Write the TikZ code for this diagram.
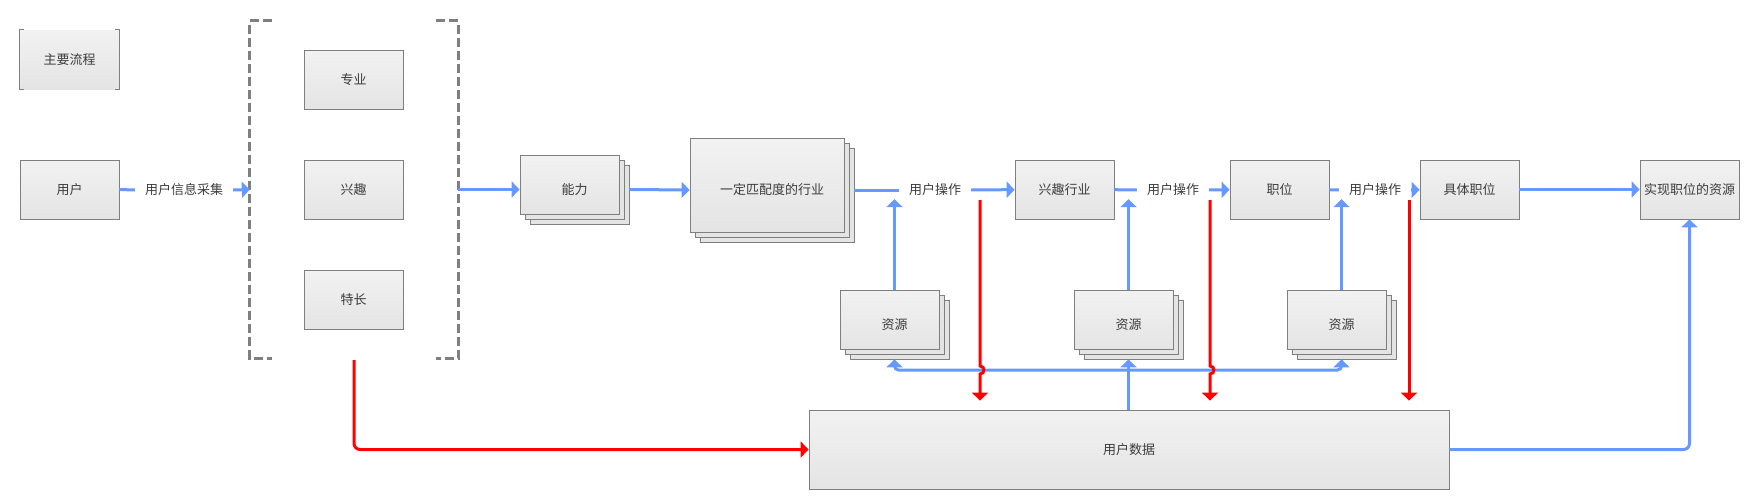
\documentclass[tikz,border=0pt]{standalone}
\usepackage{fontspec}
\usepackage{tikz}
\usetikzlibrary{arrows.meta,shadows}
\newfontfamily\cjk{Noto Sans CJK SC}
\definecolor{boxtop}{HTML}{F2F2F2}
\definecolor{boxbot}{HTML}{E4E4E4}
\definecolor{boxline}{HTML}{7F7F7F}
\definecolor{flowblue}{HTML}{6699FF}
\definecolor{txtgray}{HTML}{3C3C3C}

\begin{document}
\begin{tikzpicture}[x=1pt,y=-1pt,
		every node/.style={font=\cjk\fontsize{13}{15}\selectfont,text=txtgray,text height=11pt,text depth=2pt},
		box/.style={draw=boxline,line width=0.8pt,top color=boxtop,bottom color=boxbot,minimum width=99pt,minimum height=59pt,inner sep=0pt},
		stack/.style={box,text height=21pt,execute at begin node={\hspace*{10pt}},
			copy shadow={shadow xshift=10pt,shadow yshift=-10pt,fill=boxbot,draw=boxline,line width=0.8pt,opacity=1},
			copy shadow={shadow xshift=5pt,shadow yshift=-5pt,fill=boxbot,draw=boxline,line width=0.8pt,opacity=1}},
		tag/.style={inner xsep=10pt,inner ysep=2.5pt},
		flow/.style={draw=flowblue,line width=3pt,-{Triangle[length=8pt,width=16pt]}},
		feed/.style={flow,draw=red},
		bracket/.style={draw=boxline,line width=3pt,dash pattern=on 9pt off 4pt}]
			\useasboundingbox (0,0) rectangle (1749,499);
			\node[box,draw=none] (legend) at (69.5,59.5) {主要流程};
			\draw[boxline,line width=0.8pt] ([shift={(4,0)}]legend.north west) -- (legend.north west) -- (legend.south west) -- ++(4,0);
			\draw[boxline,line width=0.8pt] ([shift={(-4,0)}]legend.north east) -- (legend.north east) -- (legend.south east) -- ++(-4,0);
			\node[box] (user) at (69.5,189.5) {用户};
			\node[box] (major) at (353.5,79.5) {专业};
			\node[box] (interest) at (353.5,189.5) {兴趣};
			\node[box] (talent) at (353.5,299.5) {特长};
			\node[minimum width=208pt,minimum height=337pt,inner sep=0pt] (group) at (354,189.5) {};
			\draw[bracket] ([shift={(22,0)}]group.north west) -- (group.north west) -- (group.south west) -- ++(22,0);
			\draw[bracket] ([shift={(-22,0)}]group.north east) -- (group.north east) -- (group.south east) -- ++(-22,0);
			\node[tag] (collect) at (184,190) {用户信息采集};
			\node[stack] (ability) at (569.5,184.5) {能力};
			\node[stack,minimum width=154pt,minimum height=94pt] (industry) at (767,185) {一定匹配度的行业};
			\node[tag] (op1) at (935,190) {用户操作};
			\node[box] (favind) at (1064.5,189.5) {兴趣行业};
			\node[tag] (op2) at (1173,190) {用户操作};
			\node[box] (post) at (1279.5,189.5) {职位};
			\node[tag] (op3) at (1375,190) {用户操作};
			\node[box] (job) at (1469.5,189.5) {具体职位};
			\node[box] (goal) at (1689.5,189.5) {实现职位的资源};
			\node[stack] (res1) at (889.5,319.5) {资源};
			\node[stack] (res2) at (1123.5,319.5) {资源};
			\node[stack] (res3) at (1336.5,319.5) {资源};
			\node[box,minimum width=640pt,minimum height=79pt] (data) at (1129,449.5) {用户数据};

			\draw[flow,-] (user.east) -- (collect.west);
			\draw[flow] (collect.east) -- (group.west);
			\draw[flow] (group.east) -- ([shift={(0,5)}]ability.west);
			\draw[flow] ([shift={(10,5)}]ability.east) -- ([shift={(0,5)}]industry.west);
			\draw[flow,-] ([shift={(10,5)}]industry.east) -- (op1.west);
			\draw[flow] (op1) -- (favind);
			\draw[flow,-] (favind) -- (op2);
			\draw[flow] (op2) -- (post);
			\draw[flow,-] (post) -- (op3);
			\draw[flow] (op3) -- (job);
			\draw[flow] (job) -- (goal);

			\foreach \r/\op in {res1/op1,res2/op2,res3/op3} {
				\coordinate (\r top) at ([shift={(5,0)}]\r.north);
				\coordinate (\r bot) at ([shift={(5,10)}]\r.south);
				\draw[flow] (\r top) -- (\r top |- \op.south);
			}
			\coordinate (hub) at (1128.5,370);
			\draw[flow] (res2bot |- data.north) -- (res2bot);
			\draw[flow,rounded corners=4pt] (hub) -| (res1bot);
			\draw[flow,rounded corners=4pt] (hub) -| (res3bot);
			\draw[flow,rounded corners=6pt] (data.east) -| (goal.south);

			\draw[feed,rounded corners=6pt] ([shift={(0,2)}]group.south) |- (data.west);
			\foreach \x [count=\i] in {980,1210,1409}
				\coordinate (rec\i) at (\x,200);
			\foreach \i in {1,2}
				\draw[feed,shorten >=9pt] (rec\i) -- ([shift={(0,166)}]rec\i) .. controls ([shift={(5.3,166)}]rec\i) and ([shift={(5.3,174)}]rec\i) .. ([shift={(0,174)}]rec\i) -- (rec\i |- data.north);
			\draw[feed,shorten >=9pt] (rec3) -- (rec3 |- data.north);
		\end{tikzpicture}
\end{document}
